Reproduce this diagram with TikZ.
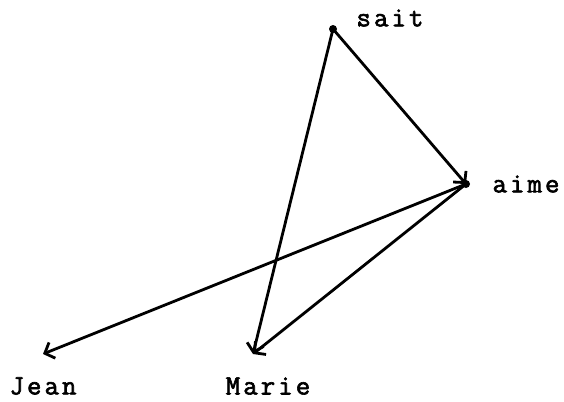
\documentclass[tikz,border=0pt]{standalone}
\usepackage{fontspec}
\setmonofont[LetterSpace=11,FakeBold=2.2]{Latin Modern Mono}
\usetikzlibrary{arrows.meta}
\begin{document}
\begin{tikzpicture}[x=1bp,y=-1bp,
  dot/.style={circle,fill=black,inner sep=0pt,minimum size=8bp},
  lbl/.style={font=\ttfamily\fontsize{28bp}{30bp}\selectfont,inner sep=0pt},
  arr/.style={line width=2.8bp,-{Straight Barb[length=8bp,width=17bp,line width=2.8bp]},shorten >=0bp}]
\useasboundingbox (0,0) rectangle (564,401);
\node[dot] (sait) at (333,29) {};
\node[dot] (aime) at (466,184) {};
\coordinate (jean) at (43,354);
\coordinate (marie) at (253,354);
\node[lbl] (tsait) at (390,18) {sait};
\node[lbl] (taime) at (526,184) {aime};
\node[lbl] (tjean) at (43,386) {Jean};
\node[lbl] (tmarie) at (268,386) {Marie};
\draw[arr] (sait.center) -- (aime.center);
\draw[arr] (sait.center) -- (marie);
\draw[arr] (aime.center) -- (jean);
\draw[arr] (aime.center) -- (marie);
\end{tikzpicture}
\end{document}
